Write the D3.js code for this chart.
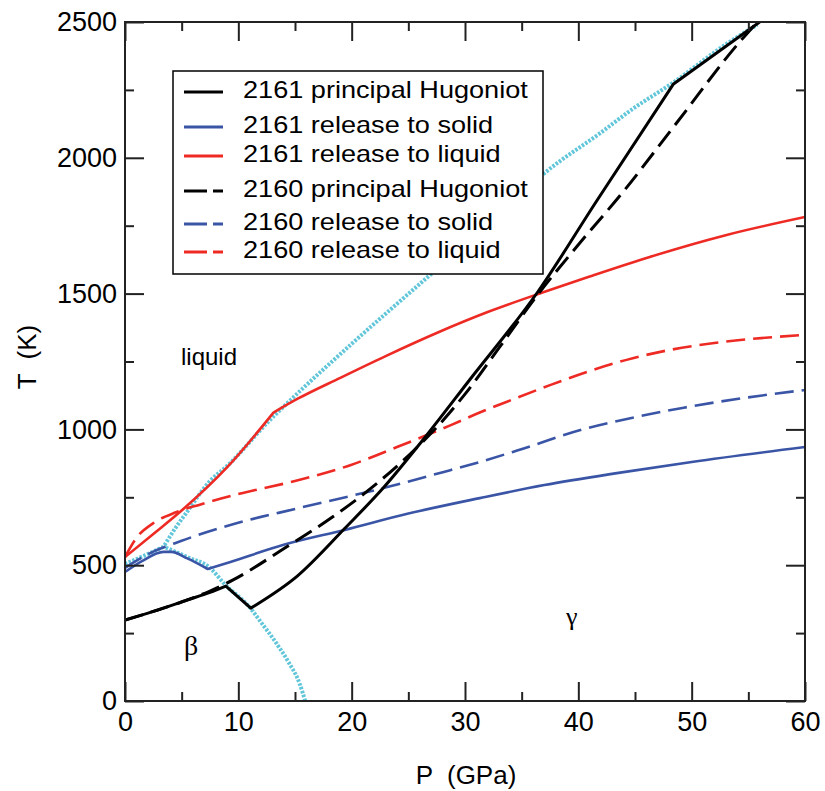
<!DOCTYPE html>
<html>
<head>
<meta charset="utf-8">
<script src="https://cdn.jsdelivr.net/npm/d3@7"></script>
<style>
  body { margin: 0; background: #fff; }
  svg { display: block; }
</style>
</head>
<body>
<svg id="chart" width="825" height="791"></svg>
<script>
// data: [P (GPa), T (K)]
const hug2161 = [[0,298],[2.5,330],[5.5,372],[7.5,400],[8.9,423],[11.1,342],[15.2,460],[19.4,636],[22.8,785],[26.3,962],[30.4,1182],[36.4,1505],[41.6,1840],[48.4,2272],[56,2500]]
const solid2161 = [[0,475],[1.5,515],[3.4,549],[4.1,549],[5.5,525],[7.3,486],[9.3,512],[14,575],[19.4,630],[25,690],[31.3,747],[37,795],[43.4,839],[50,880],[60,935]]
const liquid2161 = [[0,530],[2.5,615],[5.1,705],[9,860],[13.1,1062],[15.2,1112],[19,1190],[23,1270],[27.5,1355],[32,1432],[36.9,1505],[41,1563],[46.3,1635],[53,1715],[60,1782]]
const hug2160 = [[0,298],[2.5,330],[5.5,372],[7.5,405],[9.5,445],[14.1,563],[18.4,680],[21.9,790],[25.3,915],[27.4,1003],[30,1130],[33,1300],[36.4,1495],[40,1680],[43.9,1872],[48.7,2130],[54.3,2430],[55.8,2500]]
const solid2160 = [[0,490],[2,540],[5,590],[9.3,648],[15.4,711],[22.8,784],[28.7,850],[31.3,880],[34.6,922],[40.4,1000],[45,1045],[49.3,1080],[55,1118],[60,1145]]
const liquid2160 = [[0,530],[1,600],[2.5,655],[4.5,695],[6.6,723],[10.4,766],[15,810],[20,870],[24,935],[28.7,1015],[31.3,1062],[34.5,1115],[37.5,1163],[41,1215],[44.8,1262],[48,1292],[52,1318],[60,1348]]
// phase boundaries (cyan dots)
const meltCurve = [[0,505],[1.7,535],[3.4,568],[4.5,640],[5.4,692],[7.5,810],[9,865],[12.8,1035],[14.8,1116],[20,1315],[26.6,1557],[30,1680],[35,1870],[37.2,1950],[41.9,2090],[44.8,2180],[48.3,2275],[53.1,2420],[55.8,2490]]
const betaGamma = [[3.6,565],[5.5,530],[7.5,490],[8.8,430],[11,345],[12,290],[13.4,210],[14.4,145],[15.4,65],[15.9,0]]

const seriesNames = ["2161 principal Hugoniot","2161 release to solid","2161 release to liquid","2160 principal Hugoniot","2160 release to solid","2160 release to liquid"]
const xTicks = [0,10,20,30,40,50,60]
const xMinor = [5,15,25,35,45,55]
const yTicks = [0,500,1000,1500,2000,2500]
const yMinor = [250,750,1250,1750,2250]

const FONT = "'Liberation Sans', Arial, Helvetica, sans-serif"
const SERIF = "'Liberation Serif', 'DejaVu Serif', serif"
const BLACK = "#000", BLUE = "#3a55a6", RED = "#ee2a24", CYAN = "#62c6da"
const DASH = "19,8"

const svg = d3.select("#chart")
const pLeft = 125, pRight = 805, pTop = 22, pBottom = 701

const x = d3.scaleLinear().domain([0, 60]).range([pLeft, pRight])
const y = d3.scaleLinear().domain([0, 2500]).range([pBottom, pTop])

svg.append("defs").append("clipPath").attr("id", "clip")
   .append("rect").attr("x", pLeft).attr("y", pTop).attr("width", pRight - pLeft).attr("height", pBottom - pTop)

const plot = svg.append("g").attr("clip-path", "url(#clip)")

const line = d3.line().x(d => x(d[0])).y(d => y(d[1])).curve(d3.curveMonotoneX)

// smooth pieces joined at sharp corners (kinks = point indices)
function pathWithKinks(pts, kinks) {
  const cuts = [0, ...kinks, pts.length - 1]
  let d = ""
  for (let i = 0; i < cuts.length - 1; i++) {
    const seg = line(pts.slice(cuts[i], cuts[i + 1] + 1))
    d += i === 0 ? seg : "L" + seg.slice(1)
  }
  return d
}

// phase boundaries
;[[meltCurve, [2]], [betaGamma, []]].forEach(([pts, k]) => {
  plot.append("path").attr("d", pathWithKinks(pts, k))
      .attr("fill", "none").attr("stroke", CYAN)
      .attr("stroke-width", 4).attr("stroke-dasharray", "2.5,1.5")
})

const curves = [
  { pts: solid2160, color: BLUE, dash: DASH, w: 2.6, kinks: [] },
  { pts: liquid2160, color: RED, dash: DASH, w: 2.6, kinks: [] },
  { pts: solid2161, color: BLUE, dash: null, w: 2.6, kinks: [5] },
  { pts: liquid2161, color: RED, dash: null, w: 2.6, kinks: [4] },
  { pts: hug2160, color: BLACK, dash: DASH, w: 3, kinks: [] },
  { pts: hug2161, color: BLACK, dash: null, w: 3, kinks: [4, 5, 13] }
]
curves.forEach(c => {
  plot.append("path").attr("d", pathWithKinks(c.pts, c.kinks))
      .attr("fill", "none").attr("stroke", c.color)
      .attr("stroke-width", c.w)
      .attr("stroke-linejoin", "round")
      .attr("stroke-dasharray", c.dash)
})

// frame and ticks
function styleAxis(g) {
  g.select(".domain").remove()
  g.selectAll("line").attr("stroke", "#222").attr("stroke-width", 2)
  g.selectAll("text").attr("font-family", FONT).attr("font-size", 27).attr("fill", "#000")
}
const fmt = d3.format("d")
const xBottom = d3.axisBottom(x).tickValues(xTicks).tickFormat(fmt).tickSizeInner(-19).tickSizeOuter(0).tickPadding(11)
const xBottomMinor = d3.axisBottom(x).tickValues(xMinor).tickSizeInner(-9).tickSizeOuter(0).tickFormat("")
const xTop = d3.axisTop(x).tickValues(xTicks).tickSizeInner(-19).tickSizeOuter(0).tickFormat("")
const xTopMinor = d3.axisTop(x).tickValues(xMinor).tickSizeInner(-9).tickSizeOuter(0).tickFormat("")
const yLeft = d3.axisLeft(y).tickValues(yTicks).tickFormat(fmt).tickSizeInner(-19).tickSizeOuter(0).tickPadding(8)
const yLeftMinor = d3.axisLeft(y).tickValues(yMinor).tickSizeInner(-9).tickSizeOuter(0).tickFormat("")
const yRight = d3.axisRight(y).tickValues(yTicks).tickSizeInner(-19).tickSizeOuter(0).tickFormat("")
const yRightMinor = d3.axisRight(y).tickValues(yMinor).tickSizeInner(-9).tickSizeOuter(0).tickFormat("")

;[[xBottom, 0, pBottom], [xBottomMinor, 0, pBottom], [xTop, 0, pTop], [xTopMinor, 0, pTop],
  [yLeft, pLeft, 0], [yLeftMinor, pLeft, 0], [yRight, pRight, 0], [yRightMinor, pRight, 0]].forEach(([ax, tx, ty]) => {
  svg.append("g").attr("transform", `translate(${tx},${ty})`).call(ax).call(styleAxis)
})

svg.append("rect").attr("x", pLeft).attr("y", pTop).attr("width", pRight - pLeft).attr("height", pBottom - pTop)
   .attr("fill", "none").attr("stroke", "#222").attr("stroke-width", 2)

// axis titles
svg.append("text").attr("x", 466).attr("y", 784).attr("text-anchor", "middle")
   .attr("font-family", FONT).attr("font-size", 26).attr("xml:space", "preserve")
   .text("P  (GPa)")
svg.append("text").attr("transform", "translate(36,357) rotate(-90)").attr("text-anchor", "middle")
   .attr("font-family", FONT).attr("font-size", 26).attr("xml:space", "preserve")
   .text("T  (K)")

// region labels
svg.append("text").attr("x", 181).attr("y", 365).attr("font-family", FONT).attr("font-size", 24).text("liquid")
svg.append("text").attr("x", 184).attr("y", 655).attr("font-family", SERIF).attr("font-size", 28).text("β")
svg.append("text").attr("x", 566).attr("y", 625).attr("font-family", SERIF).attr("font-size", 26).text("γ")

// legend
const legend = svg.append("g")
legend.append("rect").attr("x", 173).attr("y", 71).attr("width", 370).attr("height", 203)
      .attr("fill", "#fff").attr("stroke", "#000").attr("stroke-width", 1.5)
const legendStyle = [[BLACK, null], [BLUE, null], [RED, null], [BLACK, "23,6"], [BLUE, "23,6"], [RED, "23,6"]]
const legendBase = [98, 133, 162, 197, 230, 258]
seriesNames.forEach((name, i) => {
  const b = legendBase[i]
  legend.append("line").attr("x1", 184).attr("x2", 223).attr("y1", b - 6).attr("y2", b - 6)
        .attr("stroke", legendStyle[i][0]).attr("stroke-width", 3)
        .attr("stroke-dasharray", legendStyle[i][1])
  legend.append("text").attr("transform", `translate(243,${b}) scale(1.13,1)`)
        .attr("font-family", FONT).attr("font-size", 24).text(name)
})
</script>
</body>
</html>
